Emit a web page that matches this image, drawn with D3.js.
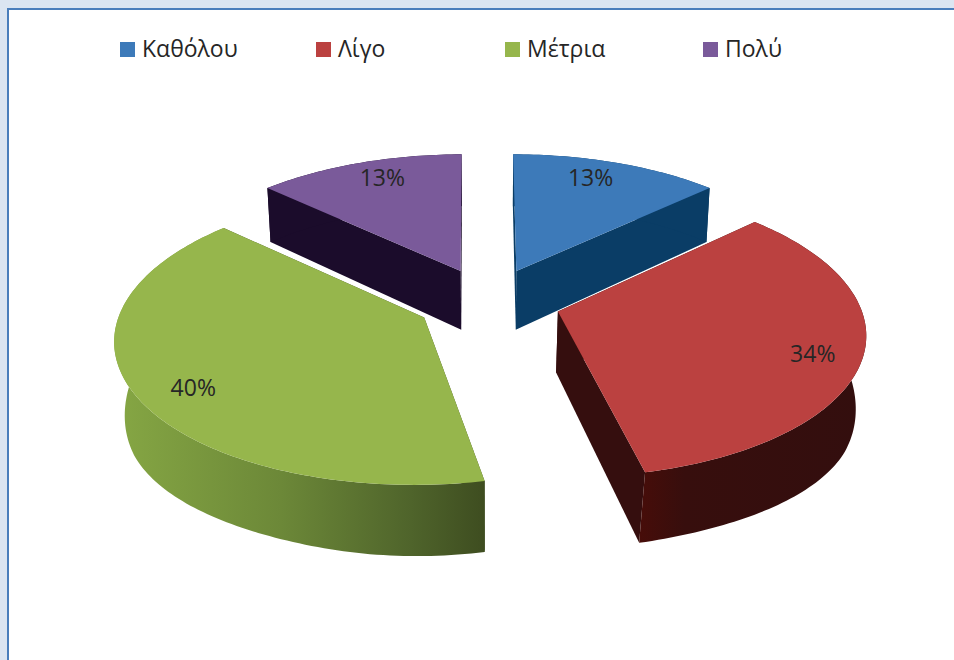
<!DOCTYPE html>
<html>
<head>
<meta charset="utf-8">
<script src="https://cdn.jsdelivr.net/npm/d3@7"></script>
<style>
  html, body { margin: 0; padding: 0; background: #dbe5f1; overflow: hidden; }
  text { font-family: "Open Sans", "Noto Sans", sans-serif; fill: #262626; }
</style>
</head>
<body>
<div id="chart"></div>
<script>
var categories = ["Καθόλου", "Λίγο", "Μέτρια", "Πολύ"];
var values = [13, 34, 40, 13];
var labels = ["13%", "34%", "40%", "13%"];
var topColors = ["#3d7ab9", "#bb4140", "#96b64c", "#7a5a9a"];
var faceColors = ["#0a3d66", "#350e0e", "#3e4d20", "#1b0c2b"];
// degrees the drawn edges differ from the exact share
var trimStart = [0, 0, -0.7, 0];
var trimEnd = [0, 1.8, 0.6, 0.5];

var width = 954, height = 660;

// tilted plane seen in perspective: u to the right, v towards the viewer
var view = { cx: 488.5, cy: 301, a: 301, b: 140, k: 0.135, explode: 0.24, depth: 60.5 };

function project(u, v) {
  var w = 1 - view.k * v;
  return [view.cx + view.a * u / w, view.cy + view.b * v / w];
}
// same point on the lower face of the slab
function projectLow(u, v) {
  var p = project(u, v);
  var w = 1 - view.k * v;
  var shrink = 0.975 - 0.012 * v;
  //the wall hangs a little lower at the front corners of the rim
  var side = Math.max(0, Math.abs(u) - 0.5);
  var extra = 35 * side * side * Math.max(0, Math.min(1, v + 0.5));
  return [view.cx + (p[0] - view.cx) * shrink, p[1] + view.depth / w + extra];
}

var svg = d3.select("#chart").append("svg").attr("width", width).attr("height", height);

//frame
svg.append("rect").attr("x", 8).attr("y", 9).attr("width", 960).attr("height", 670)
  .attr("fill", "#fff").attr("stroke", "#4a7ebb").attr("stroke-width", 2);

//wall gradients
var defs = svg.append("defs");
var greenWall = defs.append("linearGradient").attr("id", "wall2");
[[0, "#86a744"], [0.45, "#6c8838"], [0.8, "#4f642b"], [1, "#3e4d20"]].forEach(function (s) {
  greenWall.append("stop").attr("offset", s[0]).attr("stop-color", s[1]);
});
var redWall = defs.append("linearGradient").attr("id", "wall1");
[[0, "#470d09"], [0.2, "#370e0d"], [1, "#330e0e"]].forEach(function (s) {
  redWall.append("stop").attr("offset", s[0]).attr("stop-color", s[1]);
});

var color = d3.scaleOrdinal().domain(categories).range(topColors);
var face = d3.scaleOrdinal().domain(categories).range(faceColors);

var pie = d3.pie().sort(null).startAngle(0).endAngle(2 * Math.PI);
var slices = pie(values).map(function (d, i) {
  var mid = (d.startAngle + d.endAngle) / 2;
  d.name = categories[i];
  d.index = i;
  d.ox = view.explode * Math.sin(mid);
  d.oy = -view.explode * Math.cos(mid);
  d.startAngle += trimStart[i] * Math.PI / 180;
  d.endAngle -= trimEnd[i] * Math.PI / 180;
  return d;
});

var line = d3.line();

function rim(d) {
  var steps = Math.ceil((d.endAngle - d.startAngle) / 0.02);
  return d3.range(steps + 1).map(function (s) {
    var t = d.startAngle + (d.endAngle - d.startAngle) * s / steps;
    return [d.ox + Math.sin(t), d.oy - Math.cos(t)];
  });
}
function applyAll(fn, pts) {
  return pts.map(function (p) { return fn(p[0], p[1]); });
}

//back slices first, so the front ones cover their walls
var order = [3, 0, 2, 1];
var groups = svg.selectAll("g.slice")
  .data(order.map(function (i) { return slices[i]; }))
  .enter().append("g").attr("class", "slice");

groups.each(function (d) {
  var g = d3.select(this);
  var pts = rim(d);
  var apex = [d.ox, d.oy];
  //radial faces
  [pts[0], pts[pts.length - 1]].forEach(function (edge) {
    var quad = [project(apex[0], apex[1]), project(edge[0], edge[1]),
      projectLow(edge[0], edge[1]), projectLow(apex[0], apex[1])];
    g.append("path").attr("d", line(quad) + "Z").attr("fill", face(d.name));
  });
  //outer wall
  var wall = applyAll(project, pts).concat(applyAll(projectLow, pts).reverse());
  g.append("path").attr("d", line(wall) + "Z")
    .attr("fill", d.index == 1 || d.index == 2 ? "url(#wall" + d.index + ")" : face(d.name));
  //top
  var top = [project(apex[0], apex[1])].concat(applyAll(project, pts));
  g.append("path").attr("d", line(top) + "Z").attr("fill", color(d.name));
});

//data labels, spots given on the plane
var labelSpots = [[0.385, -0.997], [1.025, 0.36], [-0.905, 0.573], [-0.4, -0.997]];
svg.selectAll("text.value")
  .data(labels)
  .enter().append("text")
  .attr("class", "value")
  .attr("text-anchor", "middle")
  .attr("font-size", 23)
  .attr("x", function (d, i) { return project(labelSpots[i][0], labelSpots[i][1])[0]; })
  .attr("y", function (d, i) { return project(labelSpots[i][0], labelSpots[i][1])[1] + 8; })
  .text(function (d) { return d; });

//legend
var legendStart = [120, 316, 505, 703];
var legend = svg.selectAll("g.legend")
  .data(categories)
  .enter().append("g")
  .attr("class", "legend")
  .attr("transform", function (d, i) { return "translate(" + legendStart[i] + ",42)"; });
legend.append("rect").attr("width", 15).attr("height", 15).attr("fill", function (d) { return color(d); });
legend.append("text").attr("x", 22).attr("y", 15).attr("font-size", 23).text(function (d) { return d; });
</script>
</body>
</html>
